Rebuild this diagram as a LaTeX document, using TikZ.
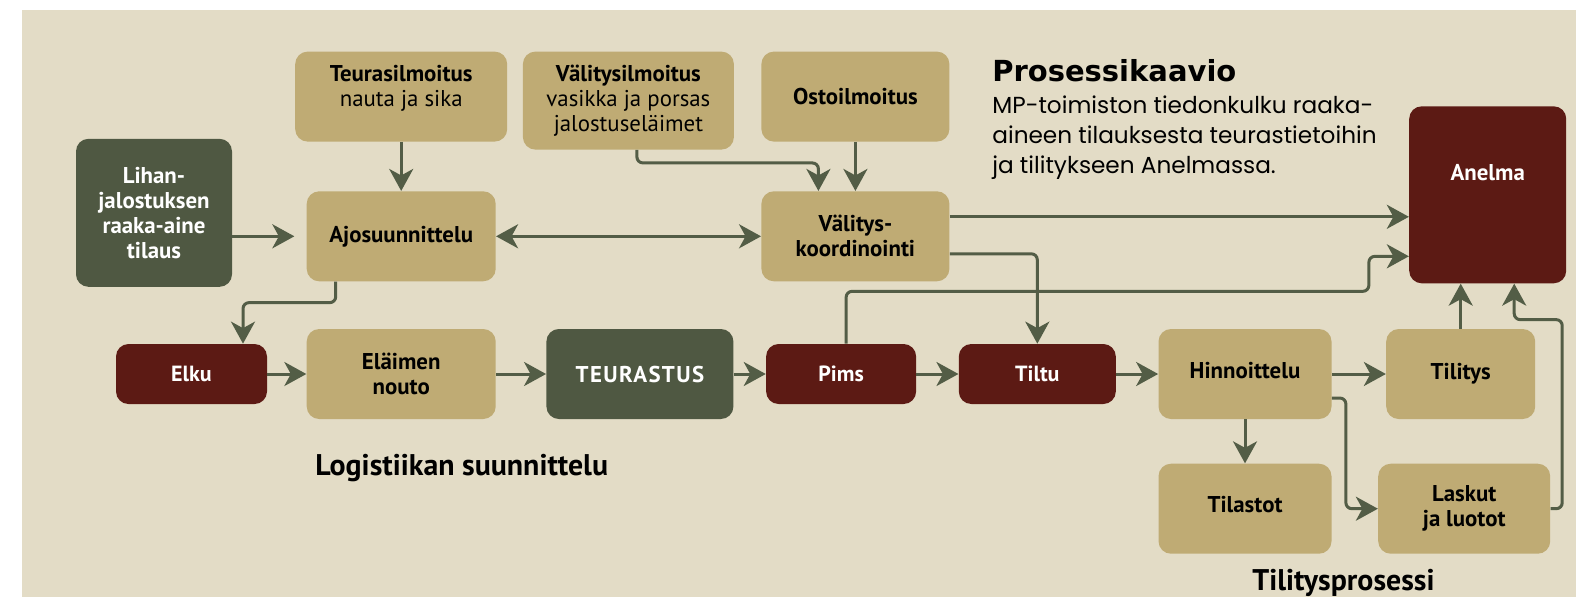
\documentclass[tikz,border=0pt]{standalone}
\usepackage{fontspec}
\setmainfont{PT Sans}
\newfontfamily\titlefont{DejaVu Sans}
\newfontfamily\introfont{Poppins}
\usetikzlibrary{arrows.meta,positioning}
\definecolor{panelbg}{HTML}{E3DCC6}
\definecolor{tanfill}{HTML}{BFAB74}
\definecolor{mossfill}{HTML}{4F5842}
\definecolor{wine}{HTML}{5C1A14}
\definecolor{flowline}{HTML}{535D46}

\begin{document}
\begin{tikzpicture}[
    font=\fontsize{13}{14.2}\selectfont,
    node distance=9mm,
    box/.style={rounded corners=2.5mm, inner sep=0pt, align=center,
                font=\fontsize{13}{14.2}\selectfont\bfseries},
    tanbox/.style={box, fill=tanfill, text=black, minimum height=18mm},
    mossbox/.style={box, fill=mossfill, text=white, minimum height=18mm},
    winebox/.style={box, fill=wine, text=white, minimum height=12mm,
                font=\fontsize{12.5}{14.2}\selectfont\bfseries},
    heading/.style={inner sep=0pt, font=\fontsize{17}{20}\selectfont\bfseries},
    arrow/.style={-{Stealth[length=4.4mm, width=4.8mm, inset=1.3mm]},
                  line width=0.6mm, draw=flowline, rounded corners=1.2mm},
    biarrow/.style={arrow, {Stealth[length=4.4mm, width=4.8mm, inset=1.3mm]}-{Stealth[length=4.4mm, width=4.8mm, inset=1.3mm]}}
]
  \useasboundingbox (0,0) rectangle (315.2mm,-119.4mm);
  \fill[panelbg] (4.4mm,-2mm) rectangle (315.2mm,-119.4mm);

  % main row
  \node[winebox, minimum width=30.2mm] (elku) at (38.3mm,-74.8mm) {Elku};
  \node[tanbox, minimum width=37.8mm, right=7.8mm of elku] (nouto) {Eläimen\\nouto};
  \node[mossbox, minimum width=37.4mm, right=10mm of nouto,
        font=\fontsize{13}{14.2}\selectfont\bfseries\addfontfeature{LetterSpace=6}] (teurastus) {TEURASTUS};
  \node[winebox, minimum width=30mm, right=6.4mm of teurastus] (pims) {Pims};
  \node[winebox, minimum width=31.4mm, right=8.4mm of pims] (tiltu) {Tiltu};
  \node[tanbox, minimum width=34.6mm, right=8.4mm of tiltu, text depth=1.6mm] (hinnoittelu) {Hinnoittelu};
  \node[tanbox, minimum width=29.8mm, right=10.8mm of hinnoittelu] (tilitys) {Tilitys};
  \node[tanbox, minimum width=34.6mm, below=8.8mm of hinnoittelu, text depth=1.6mm] (tilastot) {Tilastot};
  \node[tanbox, minimum width=34.4mm, right=9.2mm of tilastot] (laskut) {Laskut\\ja luotot};

  % planning row and notices
  \node[tanbox, minimum width=37.8mm, above=9.4mm of nouto] (ajo) {Ajosuunnittelu};
  \node[tanbox, minimum width=42.4mm, above=9.8mm of ajo, text depth=4.2mm] (teuras) {Teurasilmoitus\\\mdseries nauta ja sika};
  \node[tanbox, minimum width=42.2mm, minimum height=19.6mm,
        below right=0mm and 3mm of teuras.north east] (valitys) {Välitysilmoitus\\\mdseries vasikka ja porsas\\\mdseries jalostuseläimet};
  \node[tanbox, minimum width=37.6mm, right=53mm of ajo] (vk) {Välitys-\\koordinointi};
  \node[tanbox, minimum width=37.6mm, above=9.8mm of vk] (osto) {Ostoilmoitus};
  \node[mossbox, minimum width=31.2mm, minimum height=29.6mm, left=14.8mm of ajo, yshift=4.7mm] (lihan) {Lihan-\\jalostuksen\\raaka-aine\\tilaus};
  \node[winebox, minimum width=31.4mm, minimum height=35.4mm, text depth=9mm,
        font=\fontsize{13}{14.2}\selectfont\bfseries,
        above=9mm of tilitys, xshift=5.4mm] (anelma) {Anelma};

  % texts
  \node[inner sep=0pt, anchor=base west, font=\titlefont\fontsize{16.5}{20}\selectfont\bfseries] (title) at (198.4mm,-16.2mm) {Prosessikaavio};
  \node[inner sep=0pt, anchor=north west, align=left, font=\introfont\fontsize{13.2}{17}\selectfont] (intro) at (198.4mm,-19.1mm) {MP-toimiston tiedonkulku raaka-\\aineen tilauksesta teurastietoihin\\ja tilitykseen Anelmassa.};
  \node[heading, anchor=base west] (logistiikka) at (63mm,-95mm) {Logistiikan suunnittelu};
  \node[heading, anchor=base west] (tilitysosa) at (250.4mm,-118.1mm) {Tilitysprosessi};

  % connectors
  \draw[arrow] (teuras) -- (ajo);
  \draw[arrow] ([xshift=1.7mm]valitys.south) -- ++(0,-2.6mm) -| ([xshift=-7.4mm]vk.north);
  \draw[arrow] (osto) -- (vk);
  \draw[arrow, shorten >=2.4mm] (lihan.east |- ajo.west) -- (ajo.west);
  \draw[biarrow] (ajo) -- (vk);
  \draw[arrow] ([yshift=3.9mm]vk.east) coordinate (vkhigh) -- (vkhigh -| anelma.west);
  \draw[arrow] ([yshift=-3.5mm]vk.east) -| (tiltu.north);
  \draw[arrow] ([xshift=1mm]pims.north) |- ([xshift=-8mm,yshift=-19.3mm]anelma.west) |- ([yshift=-12.3mm]anelma.west);
  \draw[arrow] ([xshift=-13.1mm]ajo.south) -- ++(0,-4.2mm) -| ([xshift=10.3mm]elku.north);
  \draw[arrow] (elku) -- (nouto);
  \draw[arrow] (nouto) -- (teurastus);
  \draw[arrow] (teurastus) -- (pims);
  \draw[arrow] (pims) -- (tiltu);
  \draw[arrow] (tiltu) -- (hinnoittelu);
  \draw[arrow] (hinnoittelu) -- (tilitys);
  \draw[arrow] (tilitys) -- (tilitys.north |- anelma.south);
  \draw[arrow] (hinnoittelu) -- (tilastot);
  \draw[arrow] ([yshift=-4.8mm]hinnoittelu.east) -- ++(2.8mm,0) |- (laskut.west);
  \draw[arrow] (laskut.east) -| ([xshift=14.9mm,yshift=-7.2mm]anelma.south) -| ([xshift=5.3mm]anelma.south);
\end{tikzpicture}
\end{document}
